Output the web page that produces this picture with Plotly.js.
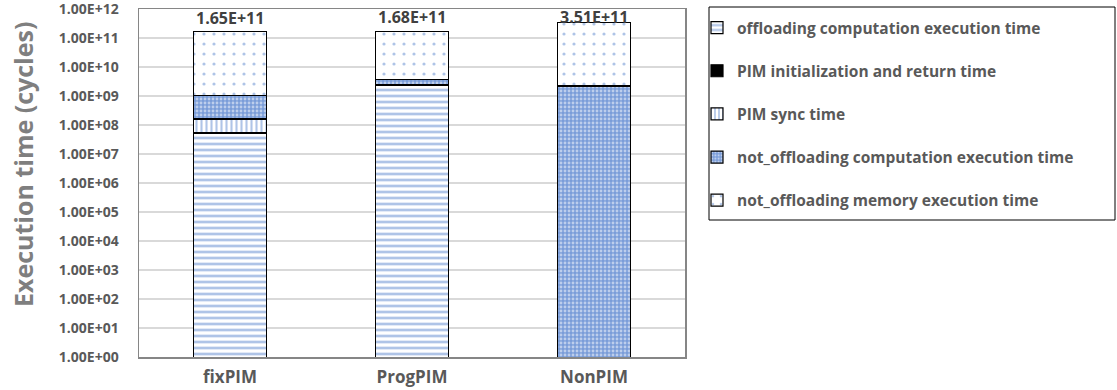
<!DOCTYPE html>
<html><head><meta charset="utf-8">
<script src="https://cdn.plot.ly/plotly-3.0.1.min.js"></script>
<style>html,body{margin:0;padding:0;background:#fff}</style>
</head><body>
<div id="chart" style="width:1117px;height:390px"></div>
<script>
const categories = ["fixPIM", "ProgPIM", "NonPIM"];
const seriesNames = ["offloading computation execution time", "PIM initialization and return time", "PIM sync time", "not_offloading computation execution time", "not_offloading memory execution time"];
const offloadComp = [5.3e7, 2.3e9, null];
const pimInitReturn = [null, 2.0e8, null];
const pimSync = [1.07e8, 2.0e7, null];
const notOffloadComp = [9.1e8, 1.3e9, 2.2e9];
const notOffloadMem = [1.6393e11, 1.6418e11, 3.488e11];
const yTickVals = [1e0,1e1,1e2,1e3,1e4,1e5,1e6,1e7,1e8,1e9,1e10,1e11,1e12];
const yTickText = ["1.00E+00","1.00E+01","1.00E+02","1.00E+03","1.00E+04","1.00E+05","1.00E+06","1.00E+07","1.00E+08","1.00E+09","1.00E+10","1.00E+11","1.00E+12"];
const yTitle = "Execution time (cycles)";

const blue = "#5f8ad0";
const styles = [
  {color:"#ffffff", pattern:{shape:"-", fgcolor:blue, size:6, solidity:0.45, fillmode:"overlay"}},
  {color:"#000000", pattern:{shape:""}},
  {color:"#ffffff", pattern:{shape:"|", fgcolor:blue, size:5, solidity:0.42, fillmode:"overlay"}},
  {color:"#7a9dd9", pattern:{shape:".", fgcolor:"#ffffff", size:4, solidity:0.4, fillmode:"overlay"}},
  {color:"#ffffff", pattern:{shape:".", fgcolor:blue, size:10, solidity:0.08, fillmode:"overlay"}}
];
const allSeries = [offloadComp, pimInitReturn, pimSync, notOffloadComp, notOffloadMem];
const traces = allSeries.map((vals, i) => ({
  type: "bar", x: categories, y: vals, name: seriesNames[i],
  legendgroup: "g" + i,
  width: 0.4,
  marker: Object.assign({line:{color:"#000000", width:1.2}}, styles[i])
}));

const px2x = p => (p - 139) / 546;
const px2y = p => (357 - p) / 348;
const yMax = 12, pxPerDecade = 348 / 12;

const totals = categories.map((c, j) => allSeries.reduce((s, a) => s + (a[j] || 0), 0));
const fmt = v => v.toExponential(2).toUpperCase();
const annotations = categories.map((c, j) => {
  const ly = Math.log10(totals[j]);
  const fits = ly + 22 / pxPerDecade <= yMax;
  return {
    x: c, y: fits ? ly : yMax, xref:"x", yref:"y", text: fmt(totals[j]),
    showarrow:false, yanchor: fits ? "bottom" : "top", yshift: fits ? 1 : 5,
    font:{family:"Open Sans", size:16, color:"#404040", weight:"bold"}
  };
});
annotations.push({
  x: px2x(23), y: px2y(165), xref:"paper", yref:"paper", text: yTitle, textangle:-90,
  showarrow:false, xanchor:"center", yanchor:"middle",
  font:{family:"Open Sans", size:25, color:"#7f7f7f", weight:"bold"}
});

const layout = {
  width:1117, height:390,
  margin:{l:139, r:432, t:9, b:33},
  barmode:"stack", bargap:0.6,
  paper_bgcolor:"#ffffff", plot_bgcolor:"#ffffff",
  showlegend:true,
  legend:{x:px2x(697), xanchor:"left", y:px2y(11), yanchor:"top", traceorder:"grouped", tracegroupgap:20,
    borderwidth:0, bgcolor:"rgba(0,0,0,0)", itemwidth:30,
    font:{family:"Open Sans", size:15.5, color:"#595959", weight:"bold"}},
  shapes:[{type:"rect", xref:"paper", yref:"paper", x0:px2x(709), x1:px2x(1115), y0:px2y(220), y1:px2y(7),
    line:{color:"#000000", width:1}, fillcolor:"rgba(0,0,0,0)", layer:"below"}],
  xaxis:{showline:true, linecolor:"#868686", linewidth:1.5, mirror:true, ticks:"", ticklabelstandoff:4,
    tickfont:{family:"Open Sans", size:17, color:"#595959", weight:"bold"}},
  yaxis:{type:"log", range:[0,yMax], tickvals:yTickVals, ticktext:yTickText, ticklabeloverflow:"allow",
    showgrid:true, gridcolor:"#d9d9d9", gridwidth:1.2, zeroline:false,
    showline:true, linecolor:"#868686", linewidth:1.5, mirror:true, ticks:"", ticklabelstandoff:16,
    tickfont:{family:"Open Sans", size:14, color:"#595959", weight:"bold"}},
  annotations: annotations
};
Plotly.newPlot("chart", traces, layout, {displayModeBar:false, staticPlot:true});
</script>
</body></html>
